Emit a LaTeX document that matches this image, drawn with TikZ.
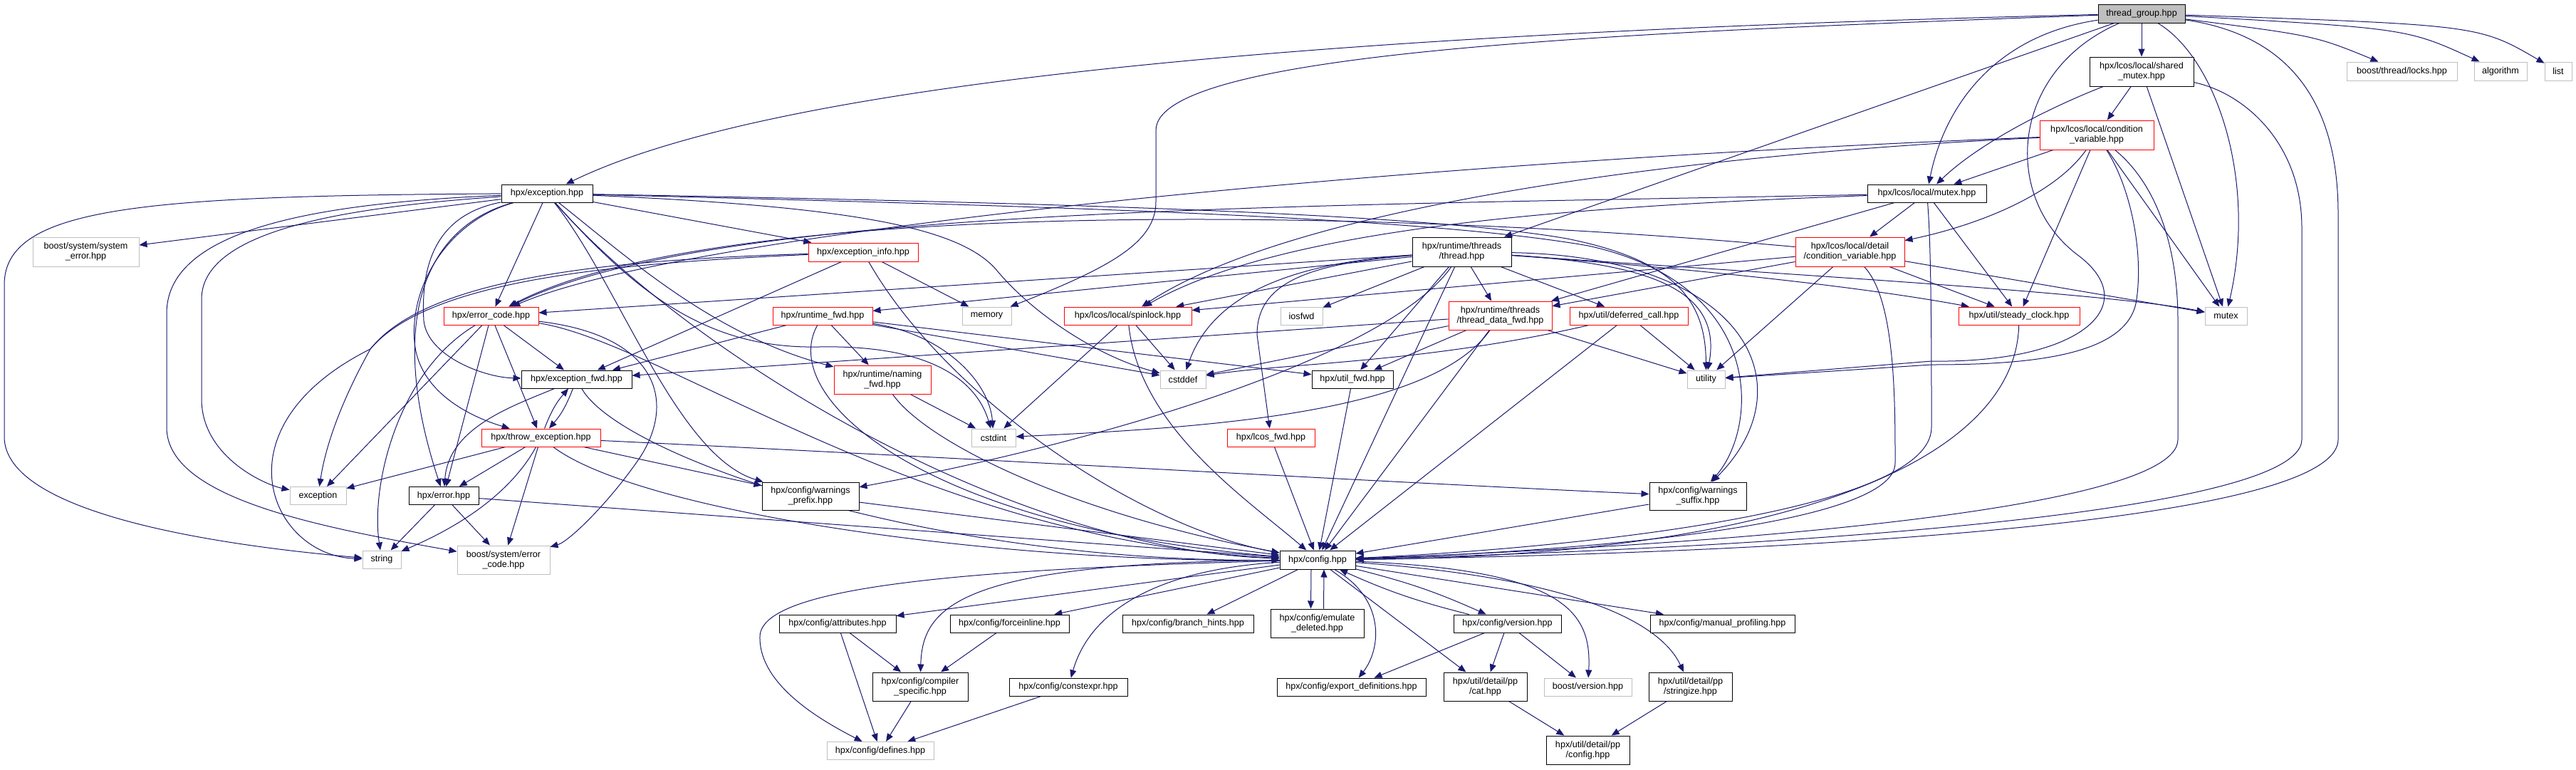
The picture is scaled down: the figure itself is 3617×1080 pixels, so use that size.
\documentclass[tikz,border=0pt]{standalone}
\usepackage{fontspec}
\setmainfont{Liberation Sans}
\usetikzlibrary{arrows.meta}
\definecolor{edgec}{HTML}{191970}
\definecolor{greyb}{HTML}{BFBFBF}
\definecolor{redb}{HTML}{FF0000}
\newcommand\nodefont{\fontsize{12.6}{14.3}\selectfont}
\pgfdeclarelayer{bgl}
\pgfdeclarelayer{edgel}
\pgfsetlayers{bgl,edgel,main}
\begin{document}
\begin{tikzpicture}[x=1pt,y=-1pt,
  nb/.style={draw=black, line width=1pt, fill=white, inner sep=0pt, minimum height=25pt, font=\nodefont, align=center},
  nr/.style={nb, draw=redb},
  ng/.style={nb, draw=greyb},
  ed/.style={draw=edgec, line width=1pt, -{Triangle[length=11pt,width=9pt]}}]
\begin{pgfonlayer}{bgl}
\fill[white] (0,0) rectangle (3617,1080);
\end{pgfonlayer}
\useasboundingbox (0,0) rectangle (3617,1080);
% nodes
\node[nb, fill=greyb, minimum width=122pt, minimum height=26pt] (TG) at (3007,19) {thread\_group.hpp};
\node[nb, minimum width=146pt, minimum height=41pt] (SHM) at (3007,100.5) {hpx/lcos/local/shared\\\_mutex.hpp};
\node[ng, minimum width=155pt, minimum height=26pt] (BTL) at (3372.5,100) {boost/thread/locks.hpp};
\node[ng, minimum width=74pt, minimum height=26pt] (ALG) at (3511,100) {algorithm};
\node[ng, minimum width=38pt, minimum height=26pt] (LIST) at (3592,100) {list};
\node[nr, minimum width=160pt, minimum height=41pt] (CV) at (2944,189.5) {hpx/lcos/local/condition\\\_variable.hpp};
\node[nb, minimum width=128pt] (E) at (768,271.5) {hpx/exception.hpp};
\node[nb, minimum width=167pt] (L) at (2705.5,271.5) {hpx/lcos/local/mutex.hpp};
\node[ng, minimum width=149pt, minimum height=41pt] (SE) at (120.5,353.5) {boost/system/system\\\_error.hpp};
\node[nr, minimum width=154pt, minimum height=26pt] (EI) at (1212,354) {hpx/exception\_info.hpp};
\node[nb, minimum width=139pt, minimum height=41pt] (T) at (2052.5,353.5) {hpx/runtime/threads\\/thread.hpp};
\node[nr, minimum width=153pt, minimum height=41pt] (DCV) at (2597.5,353.5) {hpx/lcos/local/detail\\/condition\_variable.hpp};
\node[nr, minimum width=133pt] (EC) at (689.5,443.5) {hpx/error\_code.hpp};
\node[nr, minimum width=140pt] (RF) at (1155,443.5) {hpx/runtime\_fwd.hpp};
\node[ng, minimum width=69pt] (MEM) at (1385.5,443.5) {memory};
\node[nr, minimum width=179pt] (SP) at (1583.5,443.5) {hpx/lcos/local/spinlock.hpp};
\node[ng, minimum width=59pt] (IO) at (1827.5,443.5) {iosfwd};
\node[nr, minimum width=145pt, minimum height=40pt] (TDF) at (2106.5,443) {hpx/runtime/threads\\/thread\_data\_fwd.hpp};
\node[nr, minimum width=166pt] (DC) at (2287,443.5) {hpx/util/deferred\_call.hpp};
\node[nr, minimum width=170pt] (SC) at (2835,443.5) {hpx/util/steady\_clock.hpp};
\node[ng, minimum width=59pt] (MTX) at (3125.5,443.5) {mutex};
\node[nb, minimum width=155pt] (EF) at (809.5,532.5) {hpx/exception\_fwd.hpp};
\node[nr, minimum width=136pt, minimum height=40pt] (NF) at (1239,533) {hpx/runtime/naming\\\_fwd.hpp};
\node[ng, minimum width=64pt] (CSD) at (1661,532.5) {cstddef};
\node[nb, minimum width=114pt] (UF) at (1899,532.5) {hpx/util\_fwd.hpp};
\node[ng, minimum width=53pt] (UTIL) at (2395.5,532.5) {utility};
\node[nr, minimum width=167pt] (TE) at (759.5,614.5) {hpx/throw\_exception.hpp};
\node[ng, minimum width=62pt] (CSI) at (1395,614.5) {cstdint};
\node[nr, minimum width=123pt] (LF) at (1784.5,614.5) {hpx/lcos\_fwd.hpp};
\node[ng, minimum width=79pt] (EX) at (446.5,696) {exception};
\node[nb, minimum width=98pt] (ER) at (623,696) {hpx/error.hpp};
\node[nb, minimum width=136pt, minimum height=39pt] (WP) at (1138,696.5) {hpx/config/warnings\\\_prefix.hpp};
\node[nb, minimum width=136pt, minimum height=39pt] (WS) at (2384,696.5) {hpx/config/warnings\\\_suffix.hpp};
\node[ng, minimum width=54pt] (STR) at (536,785.5) {string};
\node[ng, minimum width=130pt, minimum height=40pt] (BEC) at (707,786) {boost/system/error\\\_code.hpp};
\node[nb, minimum width=106pt, minimum height=26pt] (CFG) at (1850,786) {hpx/config.hpp};
\node[nb, minimum width=164pt] (ATTR) at (1176,875.5) {hpx/config/attributes.hpp};
\node[nb, minimum width=167pt] (FI) at (1417.5,875.5) {hpx/config/forceinline.hpp};
\node[nb, minimum width=184pt] (BH) at (1668,875.5) {hpx/config/branch\_hints.hpp};
\node[nb, minimum width=131pt, minimum height=40pt] (ED) at (1849.5,875) {hpx/config/emulate\\\_deleted.hpp};
\node[nb, minimum width=151pt] (VER) at (2116.5,875.5) {hpx/config/version.hpp};
\node[nb, minimum width=203pt] (MP) at (2418.5,875.5) {hpx/config/manual\_profiling.hpp};
\node[nb, minimum width=134pt, minimum height=40pt] (CS) at (1292,964) {hpx/config/compiler\\\_specific.hpp};
\node[nb, minimum width=166pt] (CE) at (1500,964.5) {hpx/config/constexpr.hpp};
\node[nb, minimum width=209pt] (EXD) at (1897.5,964.5) {hpx/config/export\_definitions.hpp};
\node[nb, minimum width=117pt, minimum height=40pt] (CAT) at (2085.5,964) {hpx/util/detail/pp\\/cat.hpp};
\node[ng, minimum width=123pt] (BV) at (2229.5,964.5) {boost/version.hpp};
\node[nb, minimum width=117pt, minimum height=40pt] (STRZ) at (2373.5,964) {hpx/util/detail/pp\\/stringize.hpp};
\node[ng, minimum width=150pt] (DEF) at (1236,1054) {hpx/config/defines.hpp};
\node[nb, minimum width=117pt, minimum height=40pt] (PPC) at (2229.5,1053) {hpx/util/detail/pp\\/config.hpp};
\begin{pgfonlayer}{edgel}
% thread_group
\draw[ed] (TG) .. controls (1900,45) and (1100,110) .. (E);
\draw[ed] (TG) .. controls (2300,45) and (1623,70) .. (1623,183) -- (1623,283) .. controls (1623,340) and (1560,375) .. (MEM);
\draw[ed] (TG) -- (T);
\draw[ed] (TG) .. controls (2800,50) and (2730,150) .. (L);
\draw[ed] (TG) -- (SHM);
\draw[ed] (TG) .. controls (3250,50) .. (BTL);
\draw[ed] (TG) .. controls (3380,40) .. (ALG);
\draw[ed] (TG) .. controls (3480,35) .. (LIST);
\draw[ed] (TG) .. controls (3110,80) and (3170,250) .. (MTX);
\draw[ed] (TG) .. controls (2820,100) and (2810,280) .. (2920,360) .. controls (3010,430) and (2920,510) .. (2712,507) -- (UTIL);
\draw[ed] (TG) .. controls (3220,50) and (3283,150) .. (3283,300) -- (3283,617) .. controls (3283,750) and (2300,780) .. (CFG);
% shared_mutex
\draw[ed] (SHM) .. controls (2880,150) and (2780,200) .. (L);
\draw[ed] (SHM) -- (CV);
\draw[ed] (SHM) -- (MTX);
\draw[ed] (SHM) .. controls (3150,130) and (3232,200) .. (3232,320) -- (3232,617) .. controls (3232,735) and (2300,775) .. (CFG);
% condition_variable
\draw[ed] (CV) -- (L);
\draw[ed] (CV) .. controls (2880,280) and (2760,320) .. (DCV);
\draw[ed] (CV) .. controls (1900,230) and (950,330) .. (EC);
\draw[ed] (CV) .. controls (2300,220) and (1800,300) .. (SP);
\draw[ed] (CV) -- (SC);
\draw[ed] (CV) .. controls (2990,260) and (3010,350) .. (3000,420) .. controls (2990,500) and (2850,512) .. (2712,512) -- (UTIL);
\draw[ed] (CV) .. controls (3030,260) and (3058,350) .. (3058,450) -- (3058,617) .. controls (3058,725) and (2300,770) .. (CFG);
\draw[ed] (CV) -- (MTX);
% mutex.hpp
\draw[ed] (L) .. controls (1800,290) and (1000,290) .. (EC);
\draw[ed] (L) .. controls (2200,290) and (1800,320) .. (SP);
\draw[ed] (L) -- (TDF);
\draw[ed] (L) -- (DCV);
\draw[ed] (L) -- (SC);
\draw[ed] (L) .. controls (2712,350) and (2712,500) .. (2712,600) .. controls (2712,720) and (2200,770) .. (CFG);
% detail/condition_variable
\draw[ed] (DCV) .. controls (1900,290) and (1000,280) .. (EC);
\draw[ed] (DCV) -- (SP);
\draw[ed] (DCV) -- (TDF);
\draw[ed] (DCV) -- (SC);
\draw[ed] (DCV) -- (MTX);
\draw[ed] (DCV) -- (UTIL);
\draw[ed] (DCV) .. controls (2661,420) and (2661,560) .. (2661,650) .. controls (2661,740) and (2200,775) .. (CFG);
% thread.hpp
\draw[ed] (T) -- (EC);
\draw[ed] (T) -- (RF);
\draw[ed] (T) -- (SP);
\draw[ed] (T) -- (IO);
\draw[ed] (T) -- (TDF);
\draw[ed] (T) -- (DC);
\draw[ed] (T) -- (UF);
\draw[ed] (T) .. controls (1800,370) and (1700,420) .. (CSD);
\draw[ed] (T) .. controls (1830,370) and (1765,400) .. (1765,470) -- (LF);
\draw[ed] (T) .. controls (1950,500) and (1550,620) .. (WP);
\draw[ed] (T) .. controls (2450,360) and (2540,540) .. (WS);
\draw[ed] (T) .. controls (2300,370) and (2420,400) .. (UTIL);
\draw[ed] (T) .. controls (2350,375) and (2600,400) .. (SC);
\draw[ed] (T) .. controls (2500,385) and (2950,410) .. (MTX);
\draw[ed] (T) -- (CFG);
% exception.hpp
\draw[ed] (E) -- (SE);
\draw[ed] (E) .. controls (200,275) and (6,290) .. (6,400) -- (6,613) .. controls (6,720) and (300,765) .. (STR);
\draw[ed] (E) .. controls (450,285) and (234,320) .. (234,440) -- (234,600) .. controls (234,700) and (450,740) .. (BEC);
\draw[ed] (E) .. controls (500,290) and (283,320) .. (283,420) -- (283,560) .. controls (283,640) and (370,680) .. (EX);
\draw[ed] (E) .. controls (590,320) and (545,460) .. (ER);
\draw[ed] (E) .. controls (620,300) and (590,360) .. (595,450) .. controls (600,500) and (680,530) .. (EF);
\draw[ed] (E) .. controls (630,310) and (575,400) .. (582,480) .. controls (588,550) and (660,585) .. (TE);
\draw[ed] (E) -- (EC);
\draw[ed] (E) .. controls (880,360) and (1000,470) .. (NF);
\draw[ed] (E) .. controls (870,400) and (950,640) .. (WP);
\draw[ed] (E) -- (EI);
\draw[ed] (E) .. controls (1200,290) and (1350,320) .. (1400,380) .. controls (1450,440) and (1540,500) .. (CSD);
\draw[ed] (E) .. controls (1500,285) and (2000,300) .. (2200,335) .. controls (2350,365) and (2395,420) .. (UTIL);
\draw[ed] (E) .. controls (1500,290) and (2000,305) .. (2230,345) .. controls (2480,400) and (2470,600) .. (WS);
\draw[ed] (E) .. controls (950,480) and (1400,770) .. (CFG);
\draw[ed] (E) .. controls (900,420) and (1000,490) .. (1150,487) .. controls (1300,484) and (1370,530) .. (CSI);
% exception_info
\draw[ed] (EI) -- (MEM);
\draw[ed] (EI) .. controls (850,365) and (600,390) .. (520,490) .. controls (470,580) and (455,640) .. (EX);
\draw[ed] (EI) .. controls (850,370) and (600,395) .. (520,490) .. controls (300,600) and (380,780) .. (STR);
\draw[ed] (EI) -- (EF);
\draw[ed] (EI) .. controls (1330,560) and (1600,740) .. (CFG);
% error_code
\draw[ed] (EC) -- (EF);
\draw[ed] (EC) -- (TE);
\draw[ed] (EC) -- (ER);
\draw[ed] (EC) -- (EX);
\draw[ed] (EC) .. controls (560,520) and (520,680) .. (STR);
\draw[ed] (EC) .. controls (920,470) and (950,560) .. (900,640) .. controls (860,700) and (800,760) .. (BEC);
\draw[ed] (EC) .. controls (930,480) and (1300,760) .. (CFG);
% exception_fwd / throw_exception / error
\draw[ed] (EF) to[bend left=10] (TE);
\draw[ed] (TE) to[bend left=10] (EF);
\draw[ed] (EF) .. controls (720,570) and (630,600) .. (ER);
\draw[ed] (EF) .. controls (870,640) and (1300,790) .. (CFG);
\draw[ed] (TE) -- (ER);
\draw[ed] (TE) -- (EX);
\draw[ed] (TE) .. controls (735,660) and (690,720) .. (STR);
\draw[ed] (TE) -- (BEC);
\draw[ed] (TE) .. controls (900,720) and (1400,790) .. (CFG);
\draw[ed] (TE) -- (WP);
\draw[ed] (TE) .. controls (1300,640) and (2000,680) .. (WS);
\draw[ed] (ER) -- (STR);
\draw[ed] (ER) -- (BEC);
\draw[ed] (ER) -- (CFG);
% runtime_fwd / naming_fwd / spinlock
\draw[ed] (RF) -- (NF);
\draw[ed] (RF) -- (EF);
\draw[ed] (RF) -- (UF);
\draw[ed] (RF) -- (CSD);
\draw[ed] (RF) .. controls (1330,470) and (1390,540) .. (CSI);
\draw[ed] (RF) .. controls (1090,560) and (1300,740) .. (CFG);
\draw[ed] (NF) -- (CSI);
\draw[ed] (NF) .. controls (1300,620) and (1500,720) .. (CFG);
\draw[ed] (SP) -- (CSD);
\draw[ed] (SP) -- (CSI);
\draw[ed] (SP) .. controls (1600,600) and (1750,700) .. (CFG);
% thread_data_fwd / deferred_call / others
\draw[ed] (TDF) -- (UF);
\draw[ed] (TDF) -- (CSD);
\draw[ed] (TDF) .. controls (2010,580) and (1700,600) .. (CSI);
\draw[ed] (TDF) -- (UTIL);
\draw[ed] (TDF) -- (CFG);
\draw[ed] (TDF) -- (EF);
\draw[ed] (DC) -- (UTIL);
\draw[ed] (DC) .. controls (2000,510) and (1800,510) .. (CSD);
\draw[ed] (DC) -- (CFG);
\draw[ed] (UF) -- (CFG);
\draw[ed] (LF) -- (CFG);
\draw[ed] (WP) -- (CFG);
\draw[ed] (WS) -- (CFG);
\draw[ed] (SC) .. controls (2830,650) and (2500,780) .. (CFG);
% config.hpp
\draw[ed] (CFG) -- (ATTR);
\draw[ed] (CFG) -- (FI);
\draw[ed] (CFG) -- (BH);
\draw[ed] ([xshift=-9pt]CFG.south) -- ([xshift=-9pt]ED.north);
\draw[ed] ([xshift=9pt]ED.north) -- ([xshift=9pt]CFG.south);
\draw[ed] (CFG) to[bend left=5] (VER);
\draw[ed] (VER) to[bend left=5] (CFG);
\draw[ed] (CFG) -- (MP);
\draw[ed] (CFG) .. controls (1300,800) and (1070,830) .. (1067,893) .. controls (1065,960) and (1150,1010) .. (DEF);
\draw[ed] (CFG) .. controls (1350,790) and (1295,850) .. (CS);
\draw[ed] (CFG) .. controls (1620,800) and (1530,860) .. (CE);
\draw[ed] (CFG) .. controls (1945,840) and (1940,910) .. (EXD);
\draw[ed] (CFG) -- (CAT);
\draw[ed] (CFG) .. controls (2200,800) and (2235,860) .. (BV);
\draw[ed] (CFG) .. controls (2200,810) and (2330,870) .. (STRZ);
\draw[ed] (VER) -- (EXD);
\draw[ed] (VER) -- (CAT);
\draw[ed] (VER) -- (BV);
\draw[ed] (ATTR) -- (CS);
\draw[ed] (ATTR) -- (DEF);
\draw[ed] (FI) -- (CS);
\draw[ed] (CS) -- (DEF);
\draw[ed] (CE) -- (DEF);
\draw[ed] (CAT) -- (PPC);
\draw[ed] (STRZ) -- (PPC);
\end{pgfonlayer}
\end{tikzpicture}
\end{document}
